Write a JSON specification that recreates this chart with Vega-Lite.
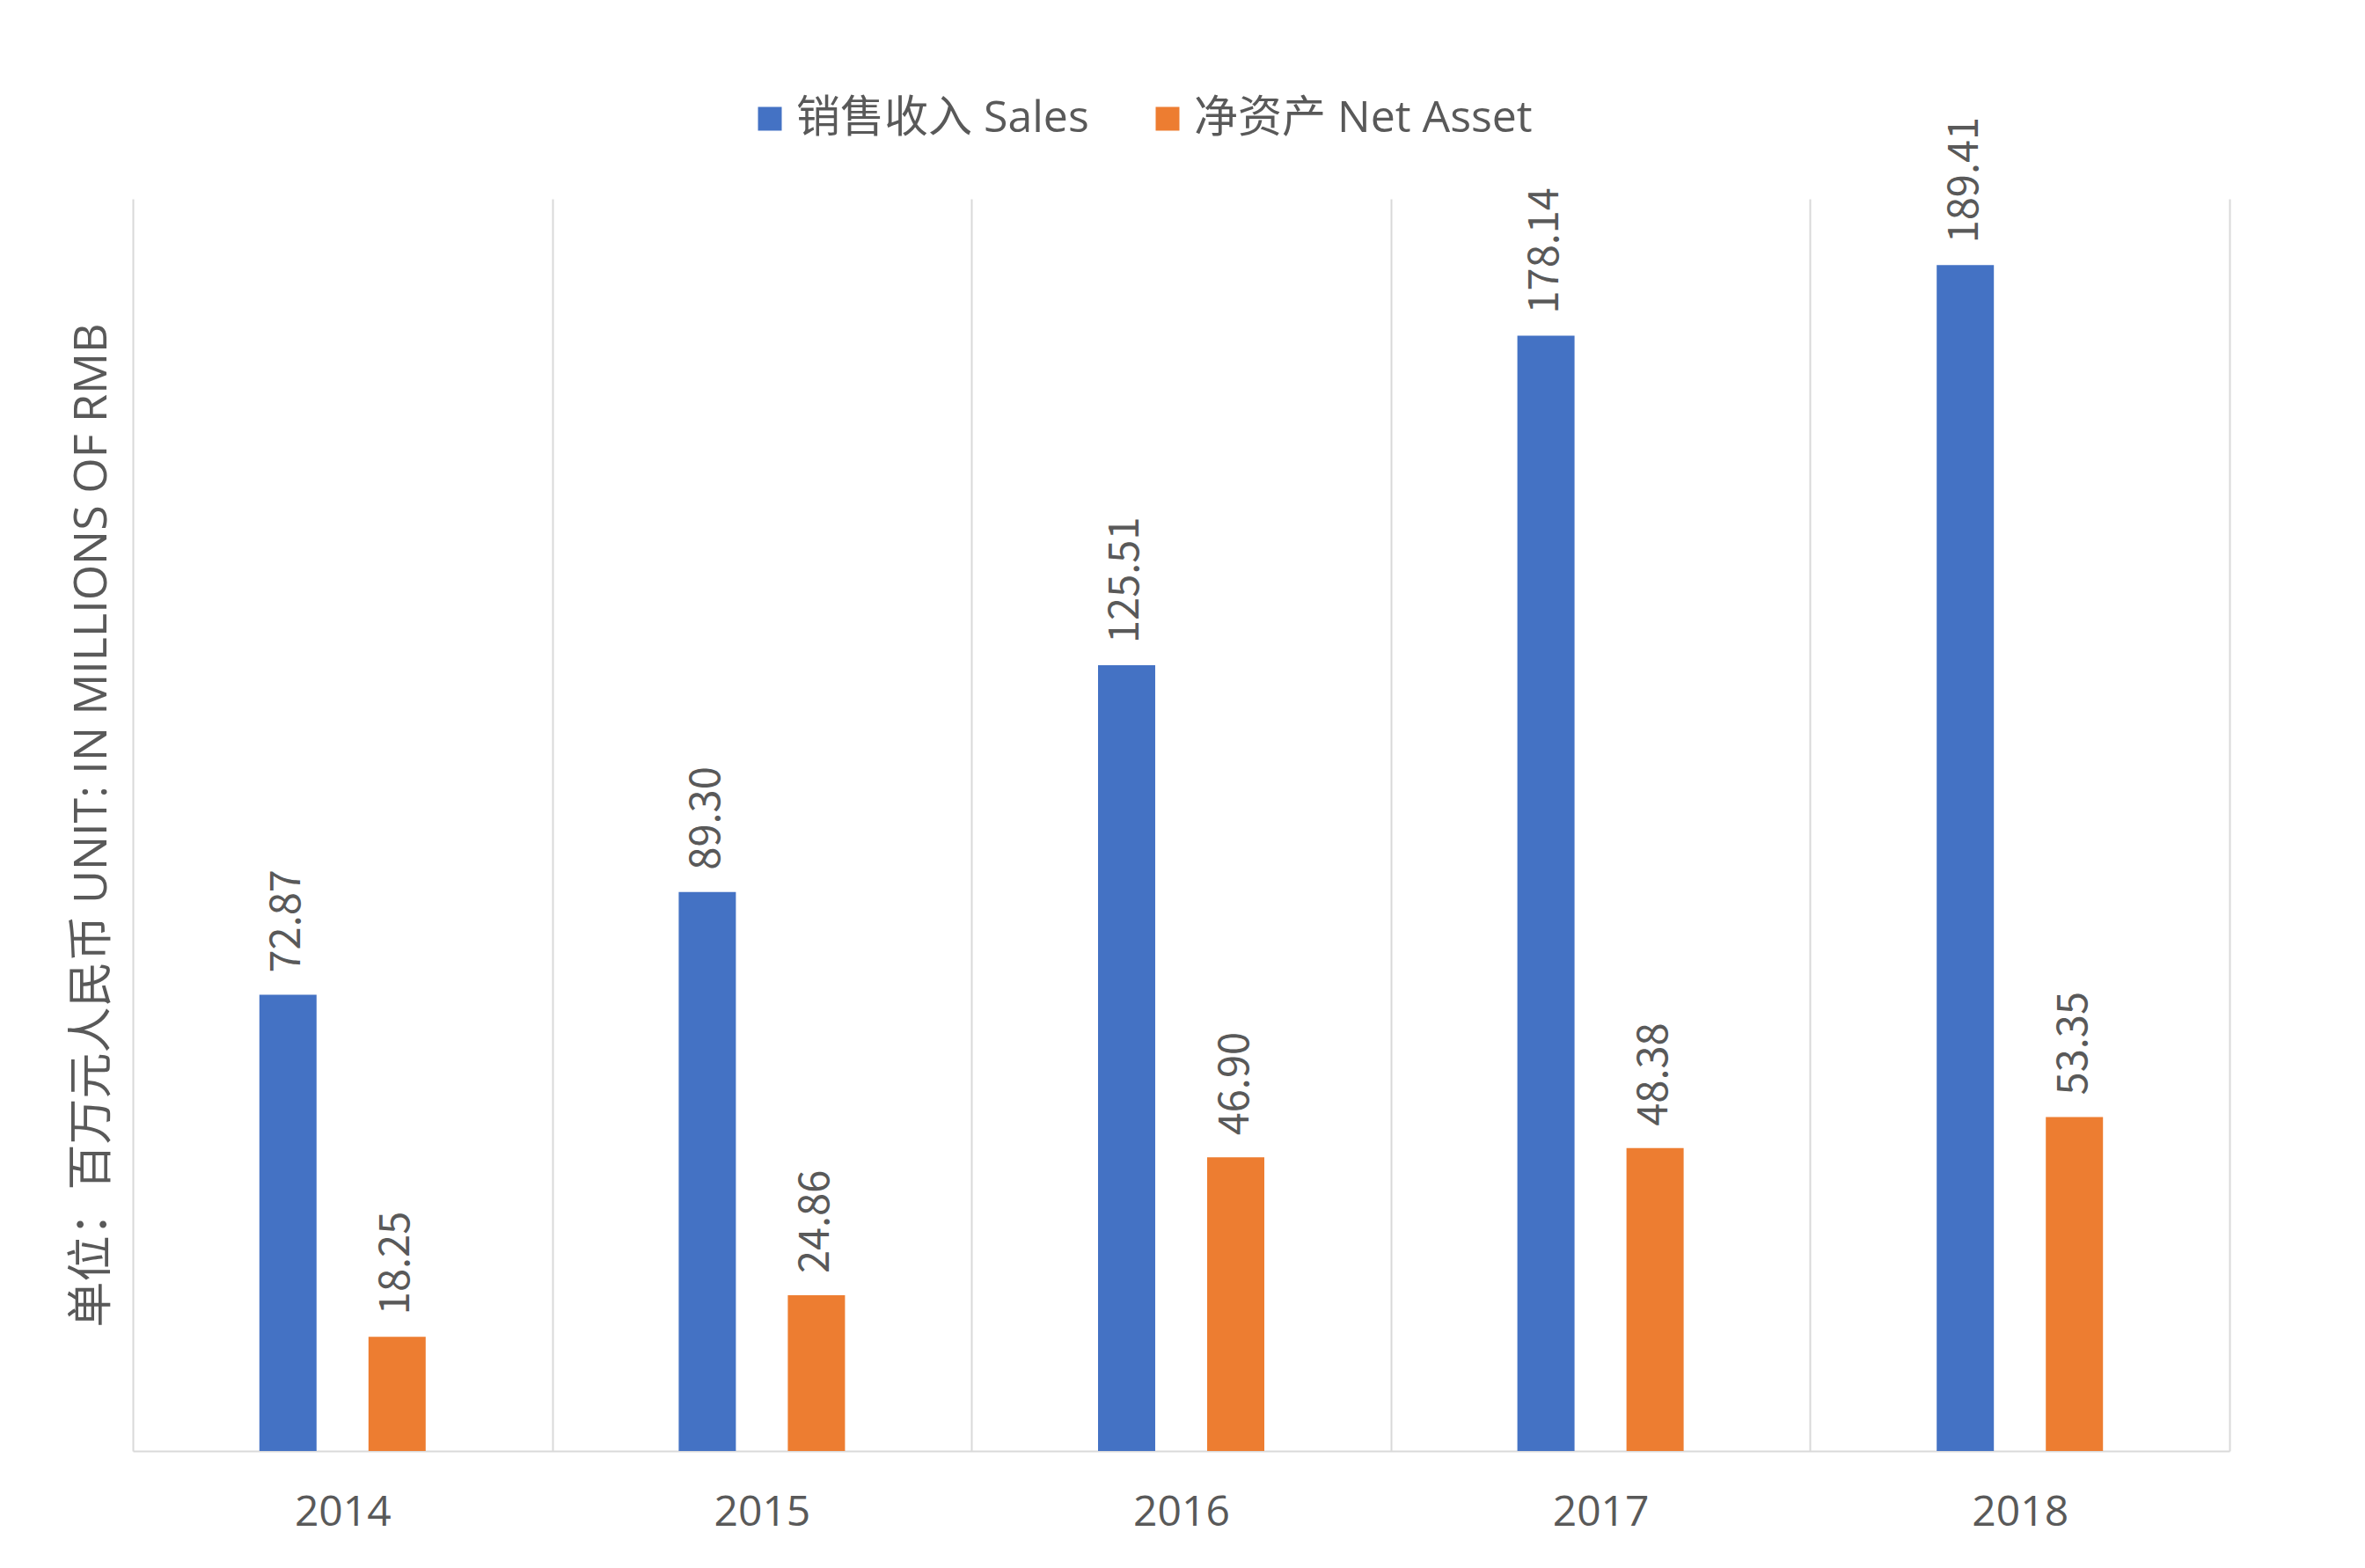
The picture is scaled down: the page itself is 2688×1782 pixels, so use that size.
{
  "$schema": "https://vega.github.io/schema/vega-lite/v6.json",
  "autosize": "none",
  "width": 2383,
  "height": 1423,
  "padding": {"left": 151, "top": 226, "right": 154, "bottom": 133},
  "background": "white",
  "config": {"view": {"stroke": null}, "font": "Open Sans, Noto Sans CJK SC"},
  "data": {
    "values": [
      {"year": "2014", "series": "销售收入 Sales", "value": 72.87},
      {"year": "2014", "series": "净资产 Net Asset", "value": 18.25},
      {"year": "2015", "series": "销售收入 Sales", "value": 89.30},
      {"year": "2015", "series": "净资产 Net Asset", "value": 24.86},
      {"year": "2016", "series": "销售收入 Sales", "value": 125.51},
      {"year": "2016", "series": "净资产 Net Asset", "value": 46.90},
      {"year": "2017", "series": "销售收入 Sales", "value": 178.14},
      {"year": "2017", "series": "净资产 Net Asset", "value": 48.38},
      {"year": "2018", "series": "销售收入 Sales", "value": 189.41},
      {"year": "2018", "series": "净资产 Net Asset", "value": 53.35}
    ]
  },
  "encoding": {
    "x": {
      "field": "year",
      "type": "nominal",
      "scale": {"paddingInner": 0, "paddingOuter": 0},
      "axis": {
        "title": null,
        "labelAngle": 0,
        "labelFont": "Open Sans",
        "labelFontSize": 48,
        "labelColor": "#595959",
        "labelPadding": 46,
        "ticks": false,
        "grid": true,
        "tickBand": "extent",
        "gridColor": "#d9d9d9",
        "gridWidth": 2,
        "domainColor": "#d9d9d9",
        "domainWidth": 2
      }
    },
    "xOffset": {
      "field": "series",
      "type": "nominal",
      "sort": ["销售收入 Sales", "净资产 Net Asset"],
      "scale": {"domain": ["销售收入 Sales", "净资产 Net Asset"], "range": [143.8, 332.8], "paddingInner": 0.476, "paddingOuter": 0}
    },
    "y": {
      "field": "value",
      "type": "quantitative",
      "scale": {"domain": [0, 200], "nice": false},
      "axis": {
        "title": "单位：百万元人民币 UNIT: IN MILLIONS OF RMB",
        "titleFont": "Open Sans, Noto Sans CJK SC",
        "titleFontSize": 52,
        "titleFontWeight": "normal",
        "titleColor": "#595959",
        "titlePadding": 20,
        "labels": false,
        "ticks": false,
        "domain": false,
        "grid": false
      }
    }
  },
  "layer": [
    {
      "mark": {"type": "bar"},
      "encoding": {
        "color": {
          "field": "series",
          "type": "nominal",
          "scale": {"domain": ["销售收入 Sales", "净资产 Net Asset"], "range": ["#4472C4", "#ED7D31"]},
          "legend": {
            "orient": "none",
            "legendX": 699,
            "legendY": -116,
            "direction": "horizontal",
            "title": null,
            "symbolType": "square",
            "symbolSize": 729,
            "symbolStrokeWidth": 0,
            "labelFont": "Open Sans, Noto Sans CJK SC",
            "labelFontSize": 50,
            "labelColor": "#595959",
            "labelOffset": 5,
            "columnPadding": 64,
            "labelLimit": 1000
          }
        }
      }
    },
    {
      "mark": {"type": "text", "angle": 270, "align": "left", "baseline": "middle", "dx": 25, "font": "Noto Sans CJK SC", "fontSize": 47, "color": "#595959"},
      "encoding": {"text": {"field": "value", "type": "quantitative", "format": ".2f"}}
    }
  ]
}
